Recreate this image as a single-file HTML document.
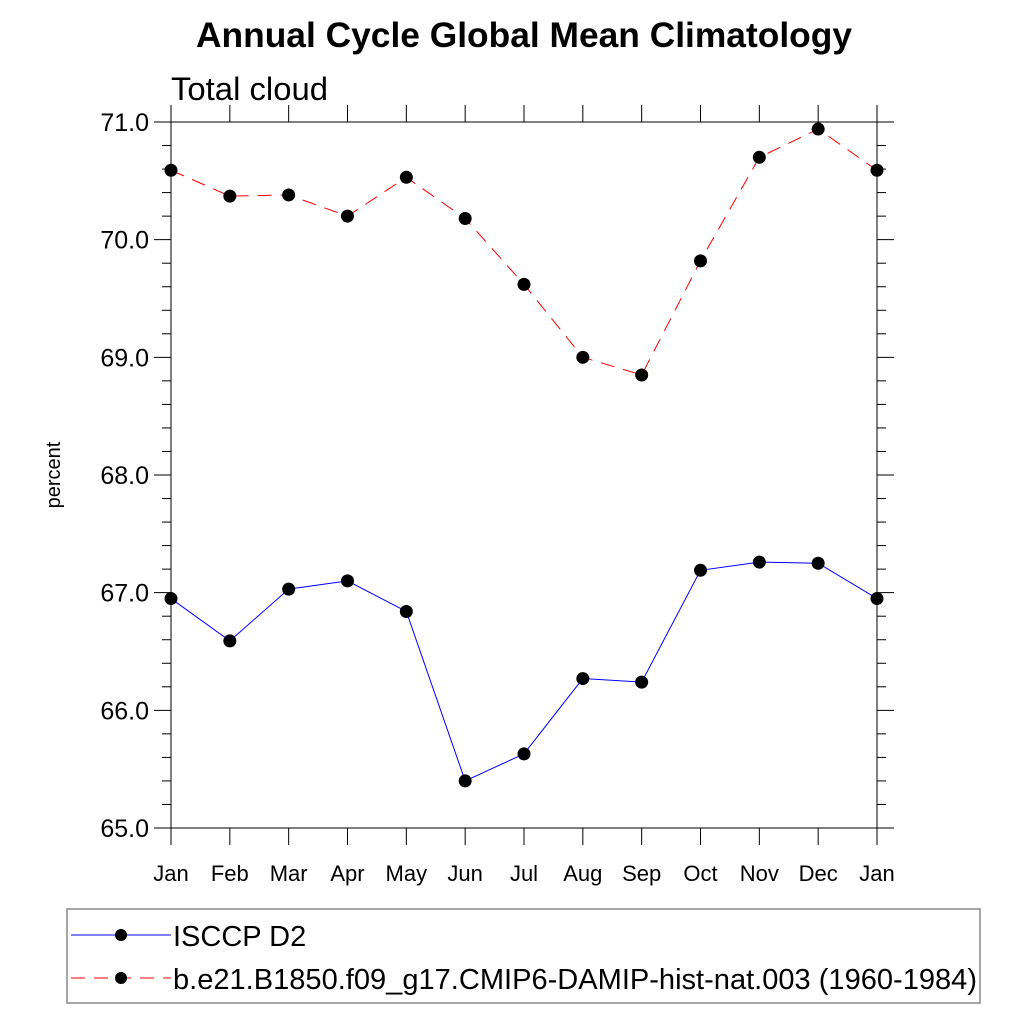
<!DOCTYPE html>
<html><head><meta charset="utf-8"><style>
body{margin:0;background:#fff;font-family:"Liberation Sans",sans-serif}
</style></head><body>
<svg id="chart" width="1024" height="1024" xmlns="http://www.w3.org/2000/svg" font-family="Liberation Sans, sans-serif">
<text x="524" y="47" text-anchor="middle" font-size="35" font-weight="bold" textLength="656" lengthAdjust="spacingAndGlyphs">Annual Cycle Global Mean Climatology</text>
<text x="171" y="100" font-size="32" textLength="157" lengthAdjust="spacingAndGlyphs">Total cloud</text>
<text transform="translate(60,475) rotate(-90)" text-anchor="middle" font-size="20">percent</text>
<g id="axes"></g>
<g id="series"></g>
<g>
<rect x="67" y="909" width="913" height="94" fill="none" stroke="#888" stroke-width="1.5"/>
<g>
<line x1="71" y1="935" x2="171" y2="935" stroke="blue" stroke-width="1"/>
<circle cx="121" cy="935" r="6" fill="#000"/>
<text x="173" y="946" font-size="29">ISCCP D2</text></g>
<g>
<line x1="71" y1="978" x2="171" y2="978" stroke="red" stroke-width="1" stroke-dasharray="14,9"/>
<circle cx="121" cy="978" r="6" fill="#000"/>
<text x="173" y="989" font-size="29" textLength="804" lengthAdjust="spacingAndGlyphs">b.e21.B1850.f09_g17.CMIP6-DAMIP-hist-nat.003 (1960-1984)</text></g>
</g>
</svg>
<script>
const months=["Jan","Feb","Mar","Apr","May","Jun","Jul","Aug","Sep","Oct","Nov","Dec","Jan"];
const yTicks=[65,66,67,68,69,70,71];
const isccp=[66.95,66.59,67.03,67.10,66.84,65.40,65.63,66.27,66.24,67.19,67.26,67.25,66.95];
const model=[70.59,70.37,70.38,70.20,70.53,70.18,69.62,69.00,68.85,69.82,70.70,70.94,70.59];
const X0=171,X1=877,Y0=828,Y1=122,NS="http://www.w3.org/2000/svg";
const xs=i=>X0+(X1-X0)*i/12;
const ys=v=>Y0-(v-65)/6*(Y0-Y1);
function mk(t,a,p){const e=document.createElementNS(NS,t);for(const k in a)e.setAttribute(k,a[k]);p.appendChild(e);return e;}
const ax=document.getElementById('axes');
const fr=mk('rect',{x:X0,y:Y1,width:X1-X0,height:Y0-Y1,fill:'none',stroke:'#000','stroke-width':1},ax);


mk('line',{x1:X1,y1:Y1,x2:893,y2:Y1,stroke:'#000'},ax);
months.forEach((m,i)=>{
 const x=xs(i);
 mk('line',{x1:x,y1:Y0,x2:x,y2:Y0+17,stroke:'#000'},ax);
 mk('line',{x1:x,y1:Y1,x2:x,y2:Y1-17,stroke:'#000'},ax);
 const t=mk('text',{x:x,y:Y0+53,'text-anchor':'middle','font-size':22},ax);t.textContent=m;
 
 
});
for(let v=65;v<=71.001;v+=0.2){
 const y=ys(v),maj=Math.abs(v-Math.round(v))<0.01,L=maj?17:9;
 mk('line',{x1:X0-L,y1:y,x2:X0,y2:y,stroke:'#000'},ax);
 mk('line',{x1:X1,y1:y,x2:X1+L,y2:y,stroke:'#000'},ax);
}
yTicks.forEach(v=>{
 const t=mk('text',{x:X0-22,y:ys(v)+9,'text-anchor':'end','font-size':25},ax);t.textContent=v.toFixed(1);
 
 
});
const sg=document.getElementById('series');
function draw(data,color,dash,name){
 const g=mk('g',{},sg);
 
 
 const p=mk('polyline',{points:data.map((v,i)=>xs(i)+','+ys(v)).join(' '),fill:'none',stroke:color,'stroke-width':1},g);
 if(dash)p.setAttribute('stroke-dasharray',dash);
 data.forEach((v,i)=>{
  const c=mk('circle',{cx:xs(i),cy:ys(v),r:6.5,fill:'#000'},g);
  
  
 });
}
draw(model,'red','14,9','model-series');
draw(isccp,'blue',null,'isccp-series');
</script>
</body></html>
